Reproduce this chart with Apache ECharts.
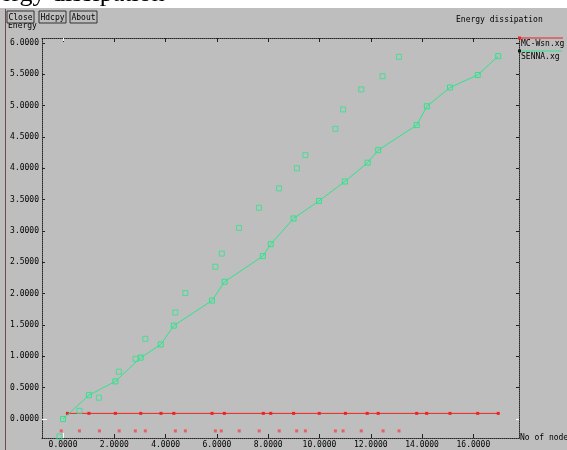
<!DOCTYPE html>
<html><head><meta charset="utf-8">
<script src="https://cdn.jsdelivr.net/npm/echarts@6/dist/echarts.min.js"></script>
<style>html,body{margin:0;padding:0;background:#bebebe;}#c{width:567px;height:450px;}</style>
</head><body><div id="c"></div>
<script>
// ---- data ----
const xTicks = [0, 2, 4, 6, 8, 10, 12, 14, 16];
const yTicks = [0, 0.5, 1, 1.5, 2, 2.5, 3, 3.5, 4, 4.5, 5, 5.5, 6];

const mcLineX = [0.17, 1.01, 2.04, 3.03, 3.82, 4.32, 5.81, 6.29, 7.81, 8.10, 8.99, 9.99, 11.01, 11.86, 12.29, 13.79, 14.18, 15.09, 16.17, 16.97];
const mcLineY = [0.09, 0.09, 0.09, 0.09, 0.09, 0.09, 0.09, 0.09, 0.09, 0.09, 0.09, 0.09, 0.09, 0.09, 0.09, 0.09, 0.09, 0.09, 0.09, 0.09];
const mcPtsX = [-0.07, 0.64, 1.42, 2.19, 2.82, 3.21, 4.38, 4.77, 5.94, 6.17, 6.87, 7.65, 8.43, 9.11, 9.45, 10.62, 10.92, 11.63, 12.48, 13.10];
const mcPtsY = [-0.19, -0.19, -0.19, -0.19, -0.19, -0.19, -0.19, -0.19, -0.19, -0.19, -0.19, -0.19, -0.19, -0.19, -0.19, -0.19, -0.19, -0.19, -0.19, -0.19];

const sennaLineX = [0, 1.01, 2.04, 3.03, 3.81, 4.32, 5.81, 6.30, 7.79, 8.10, 8.99, 9.98, 10.99, 11.88, 12.29, 13.79, 14.19, 15.09, 16.17, 16.97];
const sennaLineY = [0, 0.38, 0.60, 0.98, 1.19, 1.49, 1.89, 2.19, 2.60, 2.79, 3.20, 3.48, 3.79, 4.09, 4.29, 4.69, 4.99, 5.29, 5.49, 5.79];
const sennaPtsX = [-0.14, 0.64, 1.40, 2.18, 2.83, 3.21, 4.38, 4.77, 5.94, 6.19, 6.86, 7.64, 8.42, 9.12, 9.45, 10.62, 10.92, 11.63, 12.46, 13.10];
const sennaPtsY = [-0.28, 0.13, 0.34, 0.755, 0.96, 1.28, 1.70, 2.01, 2.43, 2.64, 3.05, 3.37, 3.68, 4.00, 4.21, 4.63, 4.94, 5.26, 5.47, 5.78];

const seriesNames = ['MC-Wsn.xg', 'SENNA.xg'];
const zeroTick = [0];

// ---- chart ----
const RED = '#ee2222', RED2 = '#f04848', GREEN = '#2ee48c';
const MONO = '"DejaVu Sans Mono", "Liberation Mono", monospace';
const pairs = (xs, ys) => xs.map((x, i) => [x, ys[i]]);

const X_MIN = -0.82, X_MAX = 17.78, Y_MIN = -0.303, Y_MAX = 6.08;
const dotted = { show: true, onZero: false, lineStyle: { color: '#222', width: 1, type: 'dotted' } };

function ax(pos, min, max, labels, ticks, tickColor, len) {
  return {
    type: 'value', position: pos, min: min, max: max,
    axisLine: labels === null ? { show: false, onZero: false } : dotted,
    splitLine: { show: false },
    axisTick: { show: true, inside: true, length: len, customValues: ticks, lineStyle: { color: tickColor, width: 1 } },
    axisLabel: labels ? { show: true, customValues: labels, formatter: v => v.toFixed(4), fontFamily: MONO, fontSize: 8, color: '#000', margin: 3 } : { show: false }
  };
}

const chart = echarts.init(document.getElementById('c'), null, { renderer: 'canvas' });

function btn(x, label) {
  return [
    { type: 'rect', z: 20, shape: { x: x, y: 11, width: 27, height: 12 }, style: { fill: '#bebebe', stroke: '#333', lineWidth: 1 } },
    { type: 'text', z: 21, style: { text: label, x: x + 13.5, y: 17.5, align: 'center', verticalAlign: 'middle', font: '8px ' + MONO, fill: '#000' } }
  ];
}

const option = {
  backgroundColor: '#bebebe',
  animation: false,
  grid: { left: 42, right: 48, top: 38, bottom: 12, containLabel: false },
  xAxis: [
    ax('bottom', X_MIN, X_MAX, xTicks, xTicks, '#222', 4),
    ax('top', X_MIN, X_MAX, false, xTicks, '#222', 4),
    ax('bottom', X_MIN, X_MAX, null, zeroTick, '#ffffff', 5),
    ax('top', X_MIN, X_MAX, null, zeroTick, '#ffffff', 3)
  ],
  yAxis: [
    ax('left', Y_MIN, Y_MAX, yTicks, yTicks, '#222', 3),
    ax('right', Y_MIN, Y_MAX, false, yTicks, '#222', 3),
    ax('left', Y_MIN, Y_MAX, null, zeroTick, '#ffffff', 5),
    ax('right', Y_MIN, Y_MAX, null, zeroTick, '#ffffff', 3)
  ],
  series: [
    { name: seriesNames[0], type: 'line', xAxisIndex: 0, yAxisIndex: 0, data: pairs(mcLineX, mcLineY),
      symbol: 'rect', symbolSize: 3, showSymbol: true, lineStyle: { color: RED, width: 1 }, itemStyle: { color: RED }, z: 3 },
    { name: seriesNames[0], type: 'scatter', xAxisIndex: 0, yAxisIndex: 0, data: pairs(mcPtsX, mcPtsY),
      symbol: 'rect', symbolSize: 3, itemStyle: { color: RED2 }, z: 3 },
    { name: seriesNames[1], type: 'line', xAxisIndex: 0, yAxisIndex: 0, data: pairs(sennaLineX, sennaLineY),
      symbol: 'rect', symbolSize: 5, showSymbol: true, lineStyle: { color: GREEN, width: 1 },
      itemStyle: { color: 'rgba(0,0,0,0)', borderColor: GREEN, borderWidth: 1 }, z: 4 },
    { name: seriesNames[1], type: 'scatter', xAxisIndex: 0, yAxisIndex: 0, data: pairs(sennaPtsX, sennaPtsY),
      symbol: 'rect', symbolSize: 5, itemStyle: { color: 'rgba(0,0,0,0)', borderColor: GREEN, borderWidth: 1 }, z: 4 }
  ],
  graphic: [].concat(
    [
      { type: 'rect', z: 10, shape: { x: 0, y: 0, width: 567, height: 8 }, style: { fill: '#ffffff' } },
      { type: 'text', z: 11, style: { text: 'Energy dissipation', x: -29, y: 7, align: 'left', verticalAlign: 'bottom', font: '26px "Liberation Serif", serif', fill: '#000' } },
      { type: 'rect', z: 12, shape: { x: 0, y: 8, width: 567, height: 1 }, style: { fill: '#bebebe' } },
      { type: 'line', z: 10, shape: { x1: 5.5, y1: 8, x2: 5.5, y2: 450 }, style: { stroke: '#6e4c4c', lineWidth: 1 } },
      { type: 'text', z: 15, style: { text: 'Energy', x: 8, y: 26, align: 'left', verticalAlign: 'middle', font: '8px ' + MONO, fill: '#000' } },
      { type: 'text', z: 15, style: { text: 'Energy dissipation', x: 456, y: 20, align: 'left', verticalAlign: 'middle', font: '8px ' + MONO, fill: '#000' } },
      { type: 'line', z: 15, shape: { x1: 519, y1: 38, x2: 563, y2: 38 }, style: { stroke: RED, lineWidth: 1 } },
      { type: 'rect', z: 16, shape: { x: 518, y: 36.5, width: 3, height: 3 }, style: { fill: RED } },
      { type: 'text', z: 15, style: { text: seriesNames[0], x: 521, y: 43.5, align: 'left', verticalAlign: 'middle', font: '8px ' + MONO, fill: '#000' } },
      { type: 'line', z: 15, shape: { x1: 519, y1: 51, x2: 562, y2: 51 }, style: { stroke: GREEN, lineWidth: 1 } },
      { type: 'rect', z: 16, shape: { x: 518, y: 49.5, width: 3, height: 3 }, style: { fill: '#111' } },
      { type: 'text', z: 15, style: { text: seriesNames[1], x: 521, y: 56.5, align: 'left', verticalAlign: 'middle', font: '8px ' + MONO, fill: '#000' } },
      { type: 'text', z: 15, style: { text: 'No of nodes', x: 520, y: 438, align: 'left', verticalAlign: 'middle', font: '8px ' + MONO, fill: '#000' } }
    ],
    btn(7, 'Close'), btn(39, 'Hdcpy'), btn(70, 'About')
  )
};
chart.setOption(option);
</script>
</body></html>
